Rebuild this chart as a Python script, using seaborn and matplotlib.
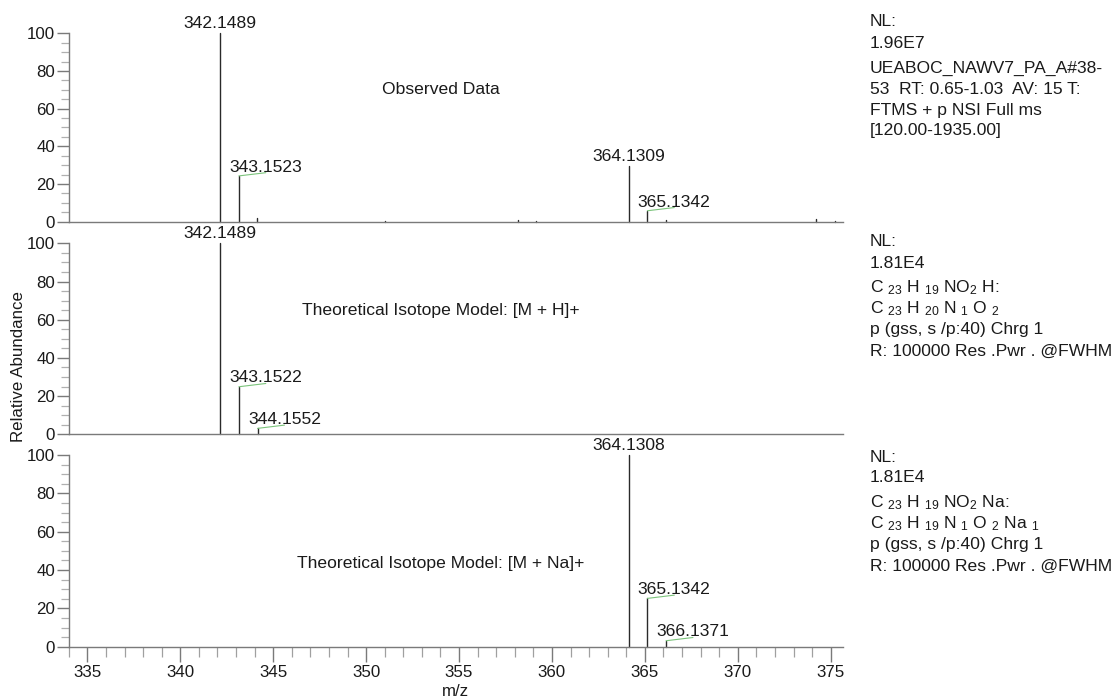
import numpy as np
import pandas as pd
import seaborn as sns
import matplotlib
matplotlib.use("Agg")
import matplotlib.pyplot as plt
from matplotlib.ticker import MultipleLocator

# ---- spectrum data (m/z, relative abundance %) ----
obs_mz = [342.1489, 343.1523, 344.1500, 351.0300, 358.1500, 359.1500,
          364.1309, 365.1342, 366.1300, 374.2200, 375.2100]
obs_int = [100.0, 24.3, 1.8, 0.4, 0.8, 0.4, 29.5, 5.8, 0.9, 1.4, 0.6]

mh_mz = [342.1489, 343.1522, 344.1552]
mh_int = [100.0, 24.9, 3.1]

mna_mz = [364.1308, 365.1342, 366.1371]
mna_int = [100.0, 25.2, 3.1]

# labelled peaks per panel: (m/z, abundance, with leader line)
obs_labels = [(342.1489, 100.0, False), (343.1523, 24.3, True),
              (364.1309, 29.5, False), (365.1342, 5.8, True)]
mh_labels = [(342.1489, 100.0, False), (343.1522, 24.9, True),
             (344.1552, 3.1, True)]
mna_labels = [(364.1308, 100.0, False), (365.1342, 25.2, True),
              (366.1371, 3.1, True)]

panel_titles = ["Observed Data",
                "Theoretical Isotope Model: [M + H]+",
                "Theoretical Isotope Model: [M + Na]+"]
title_pos = [(354.0, 70.0), (354.0, 65.0), (354.0, 43.5)]

side_text = [
    ["NL:", "1.96E7", None, "UEABOC_NAWV7_PA_A#38-", "53  RT: 0.65-1.03  AV: 15 T:",
     "FTMS + p NSI Full ms", "[120.00-1935.00]"],
    ["NL:", "1.81E4", None, r"C $_{23}$ H $_{19}$ NO$_{2}$ H:",
     r"C $_{23}$ H $_{20}$ N $_{1}$ O $_{2}$", "p (gss, s /p:40) Chrg 1",
     "R: 100000 Res .Pwr . @FWHM"],
    ["NL:", "1.81E4", None, r"C $_{23}$ H $_{19}$ NO$_{2}$ Na:",
     r"C $_{23}$ H $_{19}$ N $_{1}$ O $_{2}$ Na $_{1}$", "p (gss, s /p:40) Chrg 1",
     "R: 100000 Res .Pwr . @FWHM"],
]

sns.set_style("ticks")
plt.rcParams["font.family"] = ["Liberation Sans", "DejaVu Sans"]
plt.rcParams["mathtext.fontset"] = "custom"
plt.rcParams["mathtext.rm"] = "Liberation Sans"
plt.rcParams["mathtext.it"] = "Liberation Sans"
plt.rcParams["mathtext.bf"] = "Liberation Sans:bold"

FS_TICK = 12.2
FS = 12.6
TXT = "#1a1a1a"
AXC = "#7a7a7a"
STICK = "#2a2a2a"
LEAD = "#7cc47c"

fig = plt.figure(figsize=(11.13, 6.98), dpi=100)
boxes = [(0.0618, 0.6824, 0.6956, 0.2699),
         (0.0618, 0.3778, 0.6956, 0.2736),
         (0.0618, 0.0735, 0.6956, 0.2746)]
axes = [fig.add_axes(b) for b in boxes]


def stick_frame(mz, inten):
    rows = []
    for i, (m, h) in enumerate(zip(mz, inten)):
        rows += [(i, m, 0.0), (i, m, h)]
    return pd.DataFrame(rows, columns=["peak", "mz", "abund"])


spectra = [(obs_mz, obs_int), (mh_mz, mh_int), (mna_mz, mna_int)]
labels = [obs_labels, mh_labels, mna_labels]

for k, ax in enumerate(axes):
    mz, inten = spectra[k]
    df = stick_frame(mz, inten)
    sns.lineplot(data=df, x="mz", y="abund", units="peak", estimator=None,
                 sort=False, color=STICK, lw=1.0, ax=ax, legend=False)
    for ln in ax.get_lines():
        ln.set_clip_on(False)

    ax.set_xlim(334.0, 375.66)
    ax.set_ylim(0, 100)
    ax.set_xlabel("")
    ax.set_ylabel("")
    for side in ("top", "right"):
        ax.spines[side].set_visible(False)
    for side in ("left", "bottom"):
        ax.spines[side].set_color(AXC)
        ax.spines[side].set_linewidth(1.0)

    ax.yaxis.set_major_locator(MultipleLocator(20))
    ax.yaxis.set_minor_locator(MultipleLocator(5))
    ax.tick_params(axis="y", which="major", length=9, width=1.0, color=AXC,
                   labelsize=FS_TICK, labelcolor=TXT, pad=1)
    ax.tick_params(axis="y", which="minor", length=6, width=0.9, color="#b0b0b0")

    if k < 2:
        ax.tick_params(axis="x", which="both", bottom=False, labelbottom=False)
    else:
        ax.xaxis.set_major_locator(MultipleLocator(5))
        ax.xaxis.set_minor_locator(MultipleLocator(1))
        ax.tick_params(axis="x", which="major", length=11, width=1.0, color=AXC,
                       labelsize=FS_TICK, labelcolor=TXT, pad=2)
        ax.tick_params(axis="x", which="minor", length=7, width=0.9, color="#a0a0a0")

    # peak annotations
    for m, h, lead in labels[k]:
        if lead:
            xe, ye = m + 1.45, h + 1.7
            ax.plot([m, xe], [h, ye], color=LEAD, lw=0.8, clip_on=False)
            ax.annotate(f"{m:.4f}", xy=(xe, ye), xytext=(0, 1),
                        textcoords="offset pixels", ha="center", va="baseline",
                        fontsize=FS, color=TXT, annotation_clip=False)
        else:
            ax.annotate(f"{m:.4f}", xy=(m, h), xytext=(0, 5),
                        textcoords="offset pixels", ha="center", va="baseline",
                        fontsize=FS, color=TXT, annotation_clip=False)

    tx, ty = title_pos[k]
    ax.text(tx, ty, panel_titles[k], ha="center", va="center",
            fontsize=FS, color=TXT)

axes[2].set_xlabel("m/z", fontsize=FS_TICK, color=TXT, labelpad=3)
fig.text(0.017, 0.475, "Relative Abundance", rotation=90, ha="center",
         va="center", fontsize=FS_TICK, color=TXT)

# instrument / model notes beside each panel
side_top_px = [12, 232, 447]
for k, lines in enumerate(side_text):
    y = side_top_px[k]
    for line in lines:
        if line is None:
            y += 4
            continue
        fig.text(870 / 1113, 1 - (y + 10) / 698, line, ha="left", va="center",
                 fontsize=FS, color=TXT)
        y += 21

fig.savefig("out.png", dpi=100, facecolor="white")
